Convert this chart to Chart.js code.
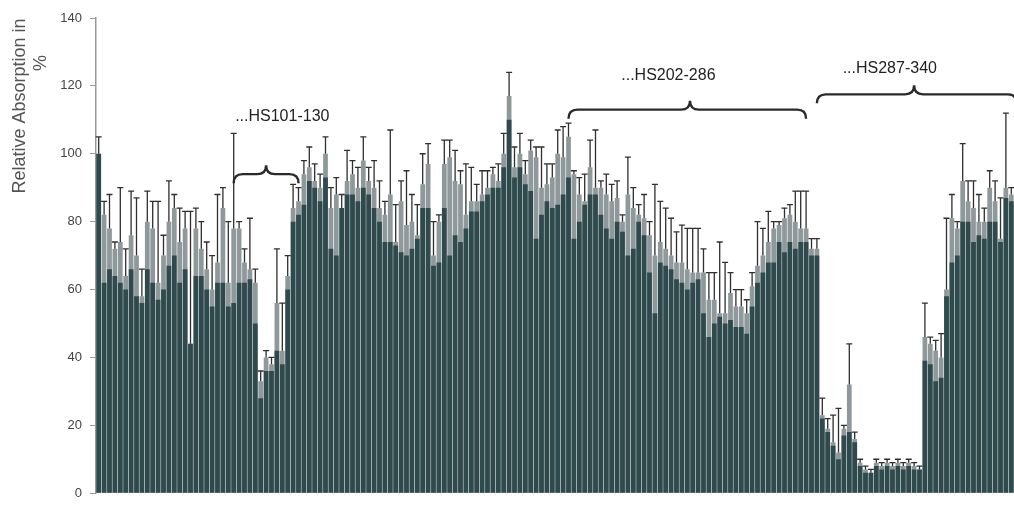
<!DOCTYPE html>
<html>
<head>
<meta charset="utf-8">
<script src="https://cdn.jsdelivr.net/npm/chart.js@4.4.1/dist/chart.umd.min.js"></script>
<style>
  body { margin: 0; background: #fff; }
  #wrap { width: 1014px; height: 509px; position: relative; }
</style>
</head>
<body>
<div id="wrap"><canvas id="absorption"></canvas></div>
<script>
// peptide pools, left to right
const categories = Array.from({ length: 170 }, (_, i) => 'P' + (i + 1));

// top of the light grey bars (%)
const greyValues = [
  100, 82, 78, 72, 74, 64, 76, 70, 58, 80,
  78, 62, 70, 80, 84, 74, 78, 44, 78, 72,
  66, 60, 68, 84, 62, 78, 78, 68, 66, 62,
  33, 40, 38, 56, 42, 64, 84, 86, 94, 96,
  92, 90, 100, 84, 88, 84, 92, 94, 90, 98,
  92, 90, 84, 82, 88, 74, 86, 79, 80, 76,
  91, 97, 70, 80, 97, 99, 92, 91, 82, 86,
  86, 88, 90, 94, 92, 100, 117, 96, 100, 94,
  101, 99, 90, 91, 93, 100, 99, 105, 94, 88,
  86, 96, 90, 90, 88, 86, 87, 80, 88, 84,
  82, 81, 76, 70, 74, 72, 70, 68, 68, 66,
  65, 65, 65, 57, 57, 53, 53, 59, 55, 55,
  53, 61, 67, 70, 74, 78, 79, 81, 82, 80,
  78, 78, 72, 72, 23, 19, 15, 12, 19, 32,
  16, 9, 7, 6, 9, 8, 9, 8, 9, 8,
  9, 8, 7, 46, 44, 42, 40, 60, 81, 78,
  92, 86, 84, 80, 80, 90, 86, 75, 90, 88
];

// top of the dark bars (%)
const darkValues = [
  100, 62, 66, 64, 62, 60, 66, 58, 56, 66,
  62, 57, 60, 67, 70, 62, 66, 44, 64, 64,
  60, 55, 62, 62, 55, 56, 62, 62, 63, 50,
  28, 36, 36, 42, 38, 60, 80, 82, 85, 92,
  90, 86, 93, 72, 70, 84, 88, 88, 86, 90,
  88, 84, 80, 74, 74, 73, 71, 70, 72, 75,
  84, 84, 67, 68, 84, 70, 76, 74, 78, 83,
  83, 86, 88, 90, 90, 96, 110, 93, 96, 91,
  89, 75, 82, 86, 84, 85, 88, 93, 75, 80,
  85, 88, 88, 82, 78, 75, 80, 77, 70, 72,
  80, 76, 65, 53, 68, 67, 66, 63, 62, 60,
  62, 63, 53, 46, 50, 52, 50, 51, 49, 49,
  47, 55, 62, 65, 68, 68, 74, 71, 74, 72,
  74, 74, 70, 70, 22, 18, 14, 10, 17, 18,
  15, 8, 6, 6, 8, 7, 8, 7, 8, 7,
  8, 7, 7, 39, 38, 33, 34, 58, 68, 70,
  80, 80, 74, 76, 75, 80, 80, 74, 87, 86
];

// upper end of the error bars (%)
const errTop = [
  105, 86, 88, 74, 90, 72, 89, 87, 66, 89,
  86, 86, 76, 92, 88, 84, 83, 83, 84, 80,
  74, 70, 88, 90, 80, 106, 80, 72, 81, 66,
  36, 42, 40, 72, 56, 70, 91, 90, 98, 102,
  97, 94, 105, 90, 93, 88, 101, 98, 96, 105,
  96, 98, 92, 86, 107, 85, 92, 95, 88, 85,
  100, 103, 80, 82, 104, 104, 101, 95, 97, 96,
  91, 95, 95, 96, 97, 106, 124, 102, 106, 98,
  104, 102, 102, 97, 97, 107, 108, 109, 95, 93,
  94, 104, 107, 92, 94, 91, 92, 82, 99, 90,
  85, 88, 80, 91, 86, 84, 81, 77, 79, 78,
  78, 78, 72, 65, 65, 74, 68, 65, 60, 60,
  57, 65, 80, 78, 83, 80, 80, 84, 85, 89,
  89, 89, 75, 75, 28, 22, 23, 25, 20, 44,
  18, 10, 8, 7, 10, 9, 10, 9, 10, 9,
  10, 9, 8, 56, 46, 45, 47, 81, 88, 80,
  103, 92, 92, 88, 84, 95, 92, 87, 112, 90
];

const yTicks = [0, 20, 40, 60, 80, 100, 120, 140];

// region brackets: first/last bar, tip bar, height (%), label position
const regionLabels = ['...HS101-130', '...HS202-286', '...HS287-340'];
const regionFrom = [25, 87, 133];
const regionTo = [37, 131, 170];
const regionTip = [31, 109.5, 151];
const regionLevel = [94, 113, 117.5];
const regionTextAt = [34, 105.5, 146.5];
const regionTextLevel = [111, 123, 125];

function brace(ctx, x1, x2, xt, yb, d) {
  ctx.beginPath();
  ctx.moveTo(x1, yb + d);
  ctx.quadraticCurveTo(x1, yb, x1 + d, yb);
  ctx.lineTo(xt - d, yb);
  ctx.quadraticCurveTo(xt, yb, xt, yb - d);
  ctx.quadraticCurveTo(xt, yb, xt + d, yb);
  ctx.lineTo(x2 - d, yb);
  ctx.quadraticCurveTo(x2, yb, x2, yb + d);
  ctx.stroke();
}

const extras = {
  id: 'extras',
  afterDatasetsDraw(chart) {
    const { ctx, scales: { x, y } } = chart;
    ctx.save();
    // error bars
    ctx.strokeStyle = '#2f2f2f';
    ctx.lineWidth = 1.3;
    errTop.forEach((e, i) => {
      const top = Math.max(greyValues[i], darkValues[i]);
      if (e <= top) return;
      const px = x.getPixelForValue(i);
      const y0 = y.getPixelForValue(top);
      const y1 = y.getPixelForValue(e);
      ctx.beginPath();
      ctx.moveTo(px, y0);
      ctx.lineTo(px, y1);
      ctx.moveTo(px - 3, y1);
      ctx.lineTo(px + 3, y1);
      ctx.stroke();
    });
    // braces + labels
    ctx.strokeStyle = '#2a2a2a';
    ctx.lineWidth = 2.4;
    ctx.fillStyle = '#222';
    ctx.font = '16px "Liberation Sans", Arial, sans-serif';
    ctx.textAlign = 'center';
    ctx.textBaseline = 'middle';
    regionLabels.forEach((label, k) => {
      brace(ctx,
        x.getPixelForValue(regionFrom[k]),
        x.getPixelForValue(regionTo[k]),
        x.getPixelForValue(regionTip[k]),
        y.getPixelForValue(regionLevel[k]), 9);
      ctx.fillText(label, x.getPixelForValue(regionTextAt[k]), y.getPixelForValue(regionTextLevel[k]));
    });
    ctx.restore();
  },
  afterDraw(chart) {
    const ctx = chart.ctx;
    ctx.save();
    ctx.fillStyle = '#555';
    ctx.font = '18px "Liberation Sans", Arial, sans-serif';
    ctx.textAlign = 'center';
    ctx.textBaseline = 'middle';
    ctx.translate(20, 106);
    ctx.rotate(-Math.PI / 2);
    ctx.fillText('Relative Absorption in', 0, 0);
    ctx.fillText('%', 43, 21);
    ctx.restore();
  }
};

new Chart(document.getElementById('absorption'), {
  type: 'bar',
  data: {
    labels: categories,
    datasets: [{
      label: 'dark',
      data: darkValues,
      backgroundColor: '#2f4a4d',
      grouped: false,
      order: 1,
      categoryPercentage: 1,
      barPercentage: 0.88
    }, {
      label: 'grey',
      data: greyValues,
      backgroundColor: '#8f999b',
      grouped: false,
      order: 2,
      categoryPercentage: 1,
      barPercentage: 0.88
    }]
  },
  options: {
    responsive: true,
    maintainAspectRatio: false,
    animation: false,
    layout: { padding: { top: 18, bottom: 3, left: 0, right: 0 } },
    plugins: { legend: { display: false }, tooltip: { enabled: false } },
    scales: {
      x: { display: false },
      y: {
        min: 0,
        max: 140,
        afterFit: (scale) => { scale.width = 96; },
        afterBuildTicks: (scale) => { scale.ticks = yTicks.map(v => ({ value: v })); },
        grid: { drawOnChartArea: false, drawTicks: true, tickLength: 6, color: '#999' },
        border: { display: true, color: '#999', width: 1.5 },
        ticks: {
          color: '#444',
          padding: 8,
          font: { family: '"Liberation Sans", Arial, sans-serif', size: 13 }
        }
      }
    }
  },
  plugins: [extras]
});
</script>
</body>
</html>
